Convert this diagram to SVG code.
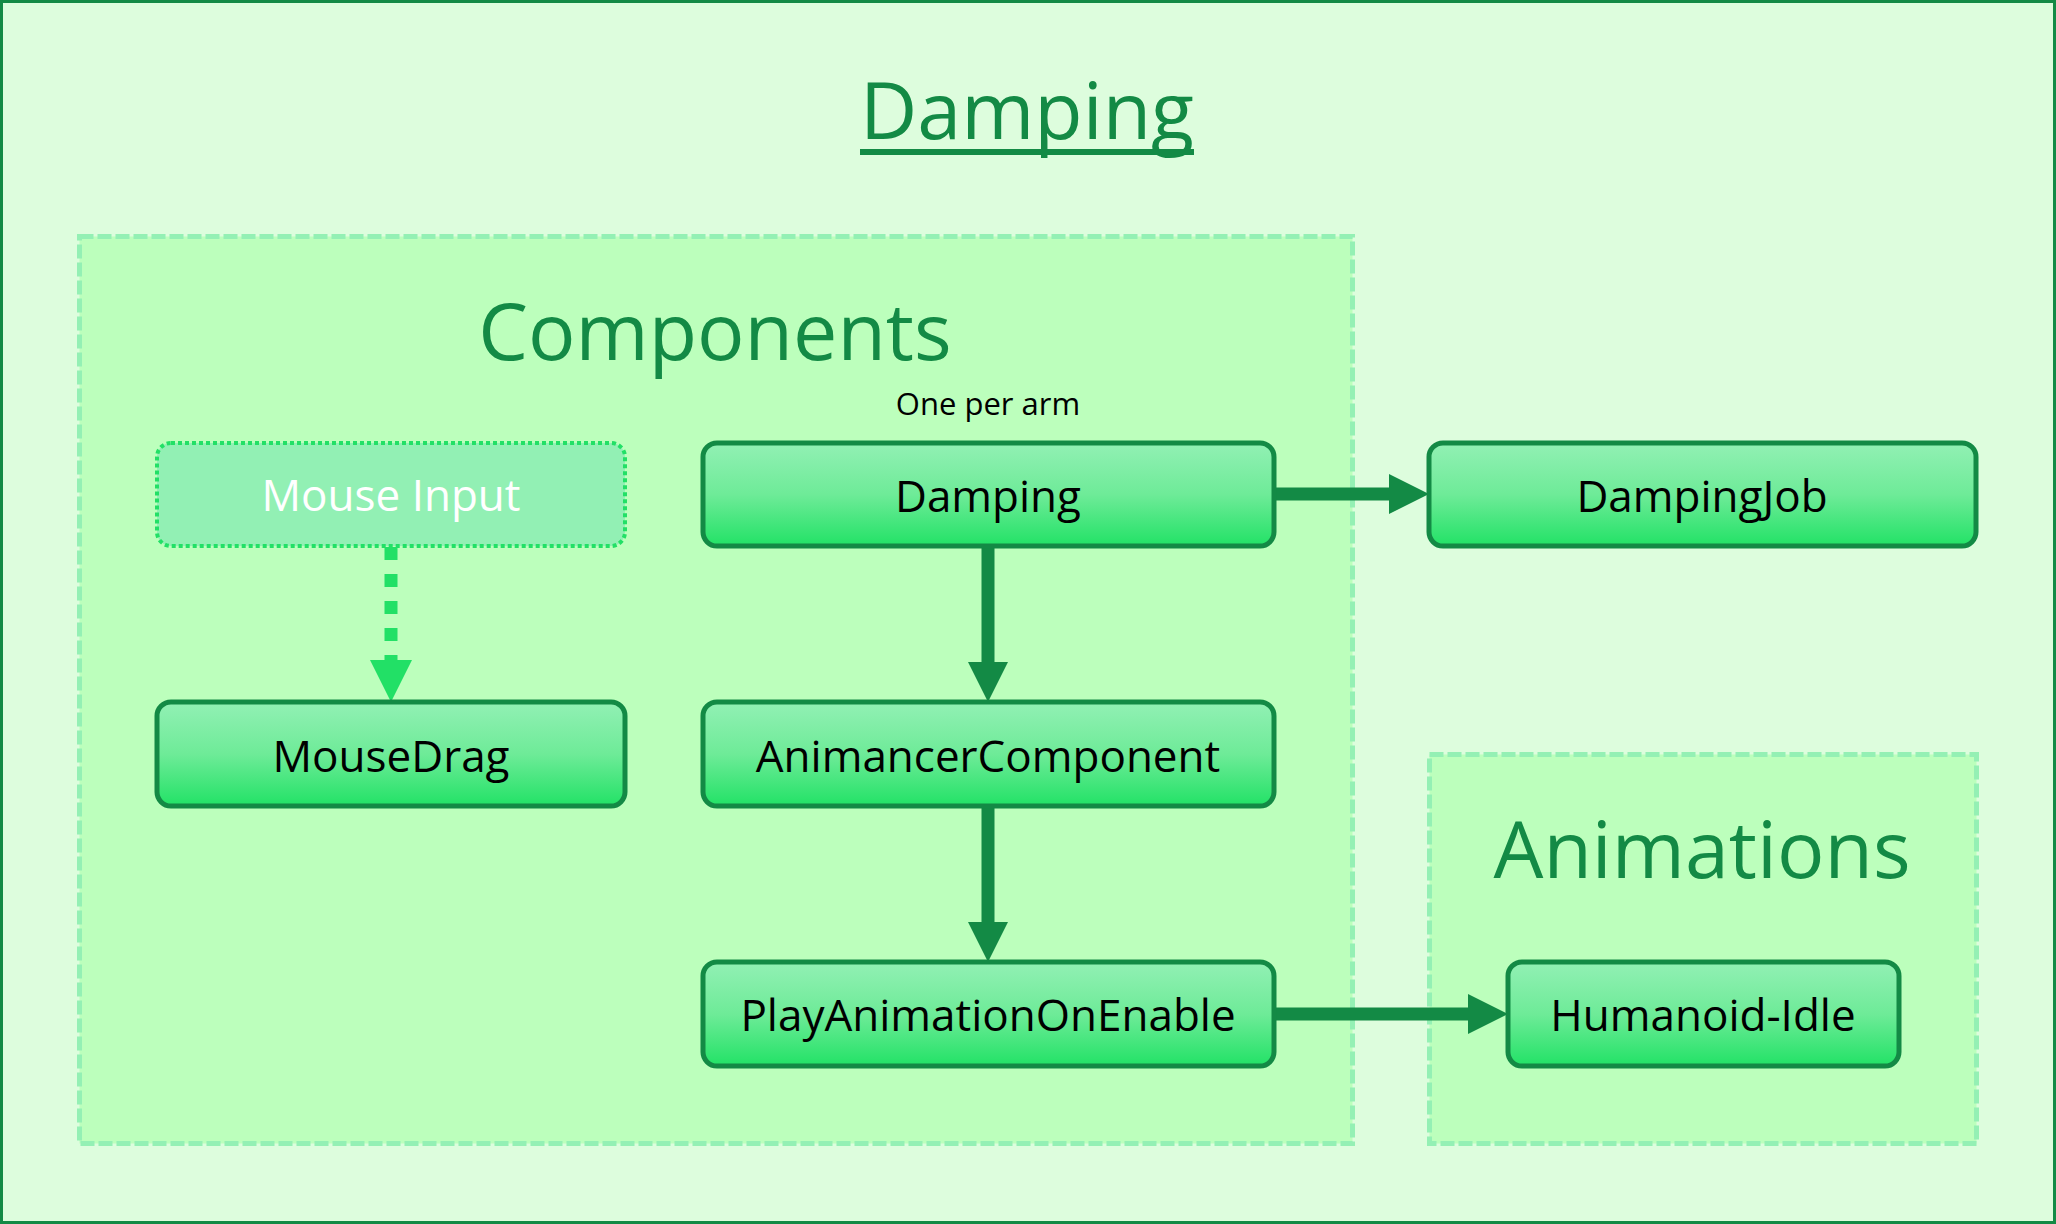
<svg xmlns="http://www.w3.org/2000/svg" width="2056" height="1224" viewBox="0 0 2056 1224">
<style>
.title{font-family:"Open Sans","Liberation Sans",sans-serif;font-size:79px;fill:#138a45;text-anchor:middle}
.group{fill:#bcffbc;stroke:#94f0b4;stroke-width:5;stroke-dasharray:14 4}
.node rect{fill:url(#ng);stroke:#138a45;stroke-width:5}
.lbl{font-family:"Open Sans","Liberation Sans",sans-serif;font-size:44px;fill:#000;text-anchor:middle}
.note{font-family:"Open Sans","Liberation Sans",sans-serif;font-size:31px;fill:#000;text-anchor:middle}
.conn{stroke:#138a45;stroke-width:13;fill:none}
.dconn{stroke:#22e066;stroke-width:13;fill:none;stroke-dasharray:13 14}
</style>
<defs>
<linearGradient id="ng" x1="0" y1="0" x2="0" y2="1">
<stop offset="0" stop-color="#92f0b4"/>
<stop offset="0.5" stop-color="#6eeb98"/>
<stop offset="1" stop-color="#22e266"/>
</linearGradient>
<marker id="ah" markerUnits="userSpaceOnUse" markerWidth="42" markerHeight="42" refX="0" refY="20" orient="auto" viewBox="0 0 42 42">
<path d="M0,0 L40,20 L0,40 z" fill="#138a45"/>
</marker>
<marker id="ahd" markerUnits="userSpaceOnUse" markerWidth="44" markerHeight="44" refX="0" refY="21" orient="auto" viewBox="0 0 44 44">
<path d="M0,0 L42,21 L0,42 z" fill="#22e066"/>
</marker>
</defs>
<rect x="1.5" y="1.5" width="2053" height="1221" fill="#ddfddd" stroke="#138a45" stroke-width="3"/>
<g id="title">
<text class="title" x="1027" y="139">Damping</text>
<line x1="860" y1="152" x2="1194" y2="152" stroke="#138a45" stroke-width="6"/>
</g>
<g id="components-group">
<rect class="group" x="79.5" y="236.5" width="1273" height="907"/>
<text class="title" x="715" y="360">Components</text>
</g>
<g id="animations-group">
<rect class="group" x="1429.5" y="754.5" width="547" height="389"/>
<text class="title" x="1702" y="878">Animations</text>
</g>
<g id="connectors">
<line class="dconn" x1="391" y1="547" x2="391" y2="660" marker-end="url(#ahd)"/>
<line class="conn" x1="1274" y1="494" x2="1389" y2="494" marker-end="url(#ah)"/>
<line class="conn" x1="988" y1="547" x2="988" y2="662" marker-end="url(#ah)"/>
<line class="conn" x1="988" y1="807" x2="988" y2="922" marker-end="url(#ah)"/>
<line class="conn" x1="1274" y1="1014" x2="1468" y2="1014" marker-end="url(#ah)"/>
</g>
<g id="mouse-input">
<rect x="157" y="443" width="468" height="103" rx="14" fill="#92f0b4" stroke="#22e066" stroke-width="4" stroke-dasharray="4 3"/>
<text class="lbl" x="391" y="511" style="fill:#ffffff">Mouse Input</text>
</g>
<g id="mousedrag" class="node">
<rect x="157" y="702" width="468" height="104" rx="14"/>
<text class="lbl" x="391" y="772">MouseDrag</text>
</g>
<g id="damping" class="node">
<text class="note" x="988" y="415">One per arm</text>
<rect x="703" y="443" width="571" height="103" rx="14"/>
<text class="lbl" x="988" y="512">Damping</text>
</g>
<g id="dampingjob" class="node">
<rect x="1429" y="443" width="547" height="103" rx="14"/>
<text class="lbl" x="1702" y="512">DampingJob</text>
</g>
<g id="animancercomponent" class="node">
<rect x="703" y="702" width="571" height="104" rx="14"/>
<text class="lbl" x="988" y="772">AnimancerComponent</text>
</g>
<g id="playanimationonenable" class="node">
<rect x="703" y="962" width="571" height="104" rx="14"/>
<text class="lbl" x="988" y="1031">PlayAnimationOnEnable</text>
</g>
<g id="humanoid-idle" class="node">
<rect x="1508" y="962" width="391" height="104" rx="14"/>
<text class="lbl" x="1703" y="1031">Humanoid-Idle</text>
</g>
</svg>
